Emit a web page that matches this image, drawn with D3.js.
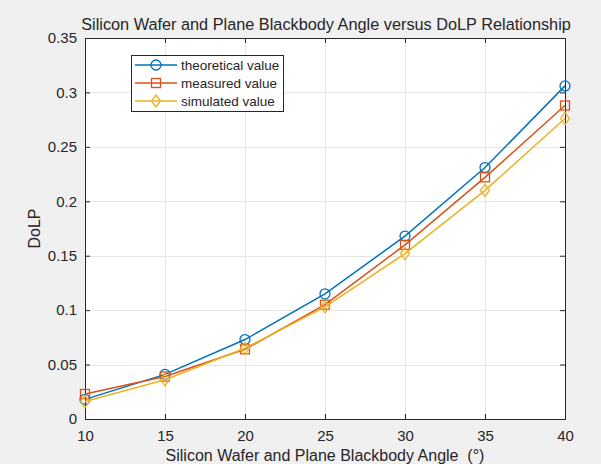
<!DOCTYPE html>
<html>
<head>
<meta charset="utf-8">
<script src="https://cdn.jsdelivr.net/npm/d3@7"></script>
<style>
body { margin: 0; background: #f0f0f0; }
svg { display: block; }
text { font-family: "Liberation Sans", Arial, sans-serif; fill: #262626; white-space: pre; }
</style>
</head>
<body>
<script>
let angles = [10, 15, 20, 25, 30, 35, 40];
let theoretical = [0.018, 0.041, 0.073, 0.115, 0.168, 0.231, 0.306];
let measured = [0.023, 0.039, 0.064, 0.105, 0.160, 0.222, 0.288];
let simulated = [0.016, 0.036, 0.065, 0.103, 0.152, 0.210, 0.276];
let xTicks = [10, 15, 20, 25, 30, 35, 40];
let yTicks = [0, 0.05, 0.1, 0.15, 0.2, 0.25, 0.3, 0.35];
let seriesNames = ["theoretical value", "measured value", "simulated value"];

let width = 601;
let height = 464;
let plotL = 85, plotR = 565, plotT = 38, plotB = 419;

let svg = d3.select("body").append("svg").attr("width", width).attr("height", height);

svg.append("rect").attr("width", width).attr("height", height).attr("fill", "#f0f0f0");

let x = d3.scaleLinear().domain([10, 40]).range([plotL, plotR]);
let y = d3.scaleLinear().domain([0, 0.35]).range([plotB, plotT]);

svg.append("rect")
  .attr("x", plotL).attr("y", plotT)
  .attr("width", plotR - plotL).attr("height", plotB - plotT)
  .attr("fill", "#ffffff");

// grid
let grid = svg.append("g").attr("stroke", "#e6e6e6").attr("stroke-width", 1);
grid.selectAll(".gx").data(xTicks.slice(1, -1)).join("line")
  .attr("x1", d => Math.round(x(d)) + 0.5).attr("x2", d => Math.round(x(d)) + 0.5)
  .attr("y1", plotT).attr("y2", plotB);
grid.selectAll(".gy").data(yTicks.slice(1, -1)).join("line")
  .attr("y1", d => Math.round(y(d)) + 0.5).attr("y2", d => Math.round(y(d)) + 0.5)
  .attr("x1", plotL).attr("x2", plotR);

// axes
let xAxis = d3.axisBottom(x).tickValues(xTicks).tickSize(-5).tickFormat(d3.format("d"));
let yAxis = d3.axisLeft(y).tickValues(yTicks).tickSize(-5).tickPadding(8).tickFormat(d => d === 0 ? "0" : String(+d.toFixed(2)));

let gx = svg.append("g").attr("transform", `translate(0,${plotB})`).call(xAxis);
let gy = svg.append("g").attr("transform", `translate(${plotL},0)`).call(yAxis);
let gxt = svg.append("g").attr("transform", `translate(0,${plotT})`).call(d3.axisTop(x).tickValues(xTicks).tickSize(-5).tickFormat(""));
let gyr = svg.append("g").attr("transform", `translate(${plotR},0)`).call(d3.axisRight(y).tickValues(yTicks).tickSize(-5).tickFormat(""));

[gx, gy, gxt, gyr].forEach(g => {
  g.select(".domain").attr("stroke", "#262626");
  g.selectAll(".tick line").attr("stroke", "#262626");
  g.selectAll(".tick text").attr("font-size", 15).attr("fill", "#262626")
    .attr("font-family", "Liberation Sans, Arial, sans-serif");
});
gx.selectAll(".tick text").attr("y", 17).attr("dy", "0.35em");

// title and labels
svg.append("text")
  .attr("x", (plotL + plotR) / 2 + 1).attr("y", 30)
  .attr("text-anchor", "middle").attr("font-size", 16.3)
  .text("Silicon Wafer and Plane Blackbody Angle versus DoLP Relationship");

svg.append("text")
  .attr("x", (plotL + plotR) / 2).attr("y", 461)
  .attr("text-anchor", "middle").attr("font-size", 16)
  .text("Silicon Wafer and Plane Blackbody Angle  (°)");

svg.append("text")
  .attr("transform", `translate(40,${(plotT + plotB) / 2}) rotate(-90)`)
  .attr("text-anchor", "middle").attr("font-size", 16)
  .text("DoLP");

// series
let colors = ["#0072BD", "#D95319", "#EDB120"];
let allSeries = [theoretical, measured, simulated];
let markers = ["circle", "square", "diamond"];

function drawMarker(g, type, cx, cy, color) {
  if (type === "circle") {
    g.append("circle").attr("cx", cx).attr("cy", cy).attr("r", 5)
      .attr("fill", "none").attr("stroke", color).attr("stroke-width", 1.3);
  } else if (type === "square") {
    g.append("rect").attr("x", cx - 4.5).attr("y", cy - 4.5).attr("width", 9).attr("height", 9)
      .attr("fill", "none").attr("stroke", color).attr("stroke-width", 1.3);
  } else {
    g.append("path").attr("d", `M${cx},${cy - 6}L${cx + 4.5},${cy}L${cx},${cy + 6}L${cx - 4.5},${cy}Z`)
      .attr("fill", "none").attr("stroke", color).attr("stroke-width", 1.3);
  }
}

let line = d3.line().x((d, i) => x(angles[i])).y(d => y(d));

allSeries.forEach((vals, k) => {
  let g = svg.append("g");
  g.append("path").datum(vals).attr("d", line)
    .attr("fill", "none").attr("stroke", colors[k]).attr("stroke-width", 1.5);
  vals.forEach((v, i) => drawMarker(g, markers[k], x(angles[i]), y(v), colors[k]));
});

// legend
let leg = svg.append("g");
leg.append("rect").attr("x", 131.5).attr("y", 55.5).attr("width", 152).attr("height", 56)
  .attr("fill", "#ffffff").attr("stroke", "#262626").attr("stroke-width", 1);
seriesNames.forEach((name, k) => {
  let ly = 65 + k * 18;
  leg.append("line").attr("x1", 135).attr("x2", 177).attr("y1", ly).attr("y2", ly)
    .attr("stroke", colors[k]).attr("stroke-width", 1.5);
  drawMarker(leg, markers[k], 156, ly, colors[k]);
  leg.append("text").attr("x", 181).attr("y", ly).attr("dy", "0.35em")
    .attr("font-size", 13.5).text(name);
});
</script>
</body>
</html>
